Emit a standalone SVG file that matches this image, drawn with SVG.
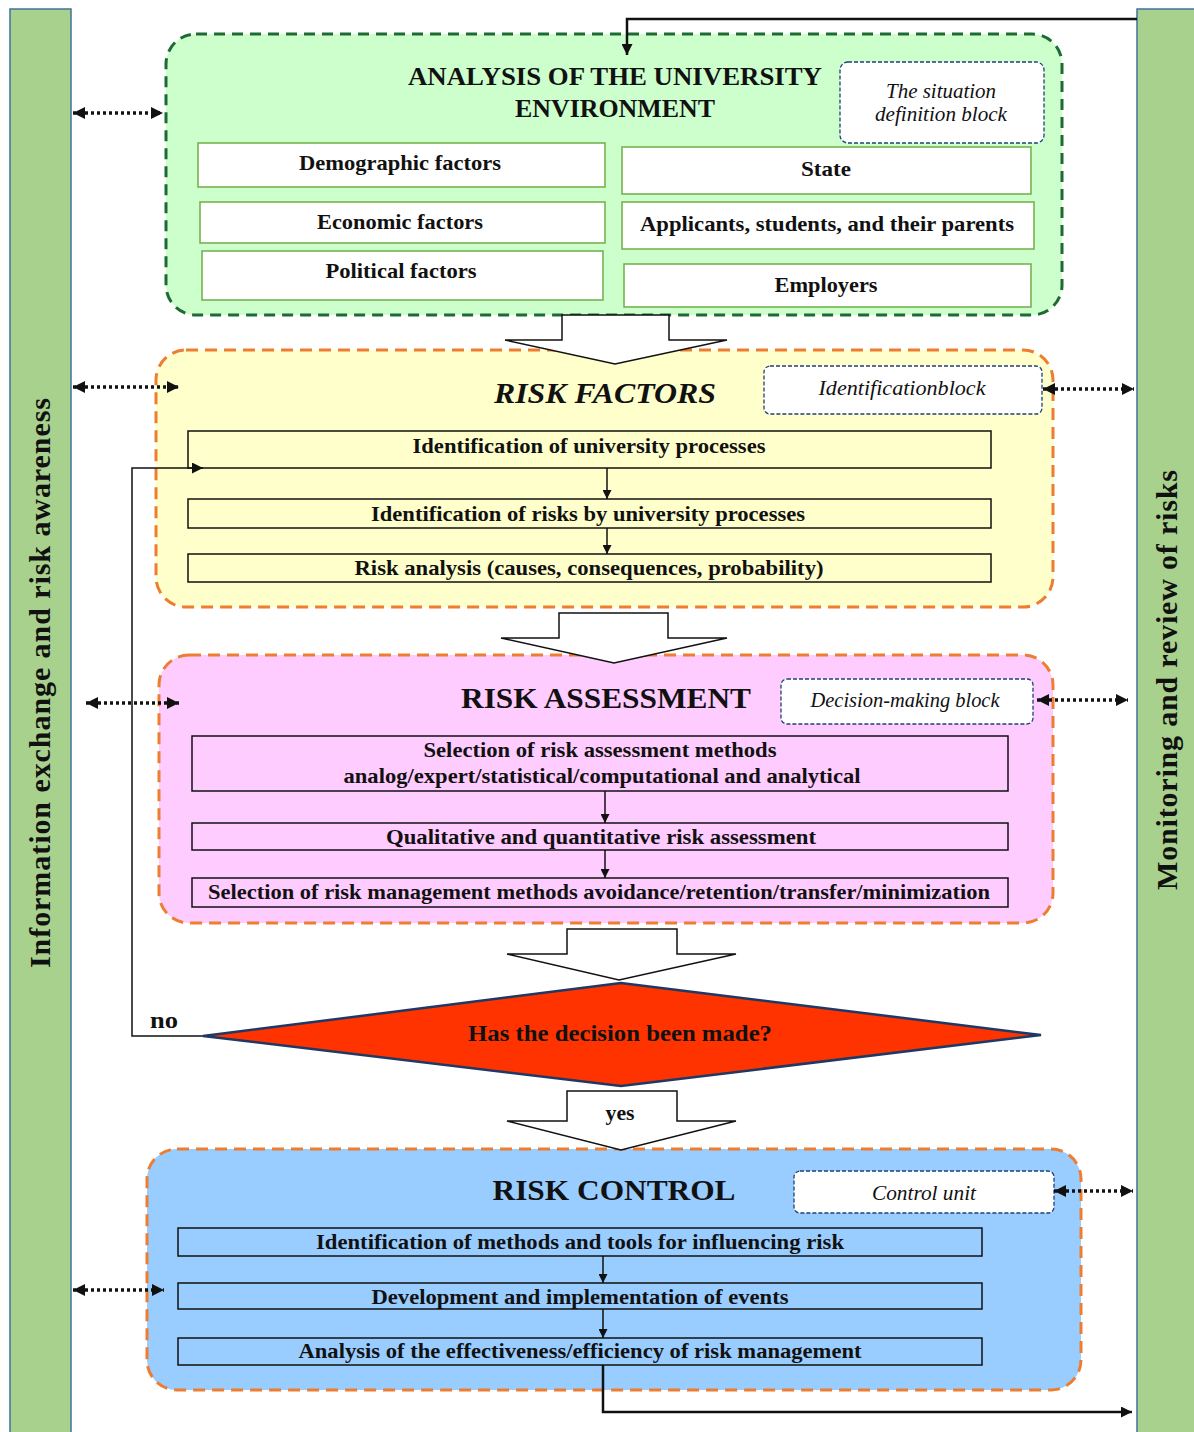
<svg xmlns="http://www.w3.org/2000/svg" width="1194" height="1432" viewBox="0 0 1194 1432">
<style>
  text { font-family: "Liberation Serif", "Times New Roman", serif; fill: #111; }
  .b { font-weight: bold; }
  .bt { font-weight: bold; font-size: 22px; }
  .it { font-style: italic; font-size: 20px; }
  .title { font-weight: bold; font-size: 30px; }
  .bar { fill: #A9D18E; stroke: #41719C; stroke-width: 1.5; }
  .envbox { fill: #CCFFCC; stroke: #1D6B33; stroke-width: 3; stroke-dasharray: 11 7; }
  .obox { stroke: #ED7D31; stroke-width: 3; stroke-dasharray: 12 7; }
  .gbox { fill: #FFFFFF; stroke: #70AD47; stroke-width: 1.5; }
  .blk { fill: #FFFFFF; stroke: #203F7A; stroke-width: 1.3; stroke-dasharray: 4 2; }
  .ibox { stroke: #111; stroke-width: 1.5; }
  .barrow { fill: #FFFFFF; stroke: #111; stroke-width: 1.5; }
  .ln { fill: none; stroke: #111; stroke-width: 1.5; }
  .thick { fill: none; stroke: #111; stroke-width: 2.5; }
  .dot { fill: none; stroke: #111; stroke-width: 3.5; stroke-dasharray: 3 3; }
</style>
<defs>
  <marker id="ah" viewBox="0 0 10 10" refX="10" refY="5" markerWidth="11" markerHeight="11" markerUnits="userSpaceOnUse" orient="auto">
    <path d="M0,0 L10,5 L0,10 z" fill="#111"/>
  </marker>
  <marker id="ahs" viewBox="0 0 10 10" refX="10" refY="5" markerWidth="10" markerHeight="9" markerUnits="userSpaceOnUse" orient="auto">
    <path d="M0,0 L10,5 L0,10 z" fill="#111"/>
  </marker>
  <marker id="ahd" viewBox="0 0 10 10" refX="10" refY="5" markerWidth="12" markerHeight="12" markerUnits="userSpaceOnUse" orient="auto-start-reverse">
    <path d="M0,0 L10,5 L0,10 z" fill="#111"/>
  </marker>
</defs>

<!-- side bars -->
<g id="bar-left">
  <rect class="bar" x="10" y="9" width="61" height="1430"/>
  <text class="b" font-size="30" transform="translate(50,683) rotate(-90)" text-anchor="middle" textLength="570" lengthAdjust="spacing">Information exchange and risk awareness</text>
</g>
<g id="bar-right">
  <rect class="bar" x="1137" y="9" width="62" height="1430"/>
  <text class="b" font-size="30" transform="translate(1177,680) rotate(-90)" text-anchor="middle" textLength="420" lengthAdjust="spacing">Monitoring and review of risks</text>
</g>

<!-- analysis of environment -->
<g id="env">
  <rect class="envbox" x="166" y="34" width="896" height="281" rx="30"/>
  <text class="b" font-size="26" x="615" y="85" text-anchor="middle" textLength="414" lengthAdjust="spacingAndGlyphs">ANALYSIS  OF  THE  UNIVERSITY</text>
  <text class="b" font-size="26" x="615" y="117" text-anchor="middle" textLength="200" lengthAdjust="spacingAndGlyphs">ENVIRONMENT</text>
</g>
<g id="situation-block">
  <rect class="blk" x="840" y="62" width="204" height="81" rx="8"/>
  <text class="it" x="941" y="98" text-anchor="middle" textLength="110" lengthAdjust="spacingAndGlyphs">The situation</text>
  <text class="it" x="941" y="121" text-anchor="middle" textLength="132" lengthAdjust="spacingAndGlyphs">definition block</text>
</g>
<g id="demographic">
  <rect class="gbox" x="198" y="143" width="407" height="44"/>
  <text class="bt" x="400" y="170" text-anchor="middle" textLength="202" lengthAdjust="spacingAndGlyphs">Demographic factors</text>
</g>
<g id="economic">
  <rect class="gbox" x="200" y="202" width="405" height="41"/>
  <text class="bt" x="400" y="229" text-anchor="middle" textLength="166" lengthAdjust="spacingAndGlyphs">Economic factors</text>
</g>
<g id="political">
  <rect class="gbox" x="202" y="251" width="401" height="49"/>
  <text class="bt" x="401" y="278" text-anchor="middle" textLength="151" lengthAdjust="spacingAndGlyphs">Political  factors</text>
</g>
<g id="state">
  <rect class="gbox" x="622" y="147" width="409" height="47"/>
  <text class="bt" x="826" y="176" text-anchor="middle" textLength="50" lengthAdjust="spacingAndGlyphs">State</text>
</g>
<g id="applicants">
  <rect class="gbox" x="622" y="202" width="412" height="47"/>
  <text class="bt" x="827" y="231" text-anchor="middle" textLength="374" lengthAdjust="spacingAndGlyphs">Applicants, students, and their parents</text>
</g>
<g id="employers">
  <rect class="gbox" x="624" y="264" width="407" height="43"/>
  <text class="bt" x="826" y="292" text-anchor="middle" textLength="103" lengthAdjust="spacingAndGlyphs">Employers</text>
</g>

<!-- risk factors -->
<g id="risk-factors">
  <rect class="obox" fill="#FFFFCC" x="156" y="350" width="897" height="257" rx="30"/>
  <text class="b" font-size="29" font-style="italic" x="605" y="403" text-anchor="middle" textLength="222" lengthAdjust="spacingAndGlyphs">RISK FACTORS</text>
</g>
<g id="identification-block">
  <rect class="blk" x="764" y="366" width="278" height="48" rx="6"/>
  <text class="it" x="902" y="395" text-anchor="middle" textLength="167" lengthAdjust="spacingAndGlyphs">Identificationblock</text>
</g>
<g id="rf1">
  <rect class="ibox" fill="#FFFFCC" x="188" y="431" width="803" height="37"/>
  <text class="bt" x="589" y="453" text-anchor="middle" textLength="353" lengthAdjust="spacingAndGlyphs">Identification of university processes</text>
</g>
<g id="rf2">
  <rect class="ibox" fill="#FFFFCC" x="188" y="499" width="803" height="29"/>
  <text class="bt" x="588" y="521" text-anchor="middle" textLength="434" lengthAdjust="spacingAndGlyphs">Identification of risks by university processes</text>
</g>
<g id="rf3">
  <rect class="ibox" fill="#FFFFCC" x="188" y="554" width="803" height="28"/>
  <text class="bt" x="589" y="575" text-anchor="middle" textLength="469" lengthAdjust="spacingAndGlyphs">Risk analysis (causes, consequences, probability)</text>
</g>

<!-- risk assessment -->
<g id="risk-assessment">
  <rect class="obox" fill="#FFCCFF" x="159" y="655" width="894" height="268" rx="30"/>
  <text class="title" x="606" y="708" text-anchor="middle" textLength="290" lengthAdjust="spacingAndGlyphs">RISK ASSESSMENT</text>
</g>
<g id="decision-block">
  <rect class="blk" x="781" y="679" width="252" height="45" rx="6"/>
  <text class="it" x="905" y="707" text-anchor="middle" textLength="189" lengthAdjust="spacingAndGlyphs">Decision-making block</text>
</g>
<g id="ra1">
  <rect class="ibox" fill="#FFCCFF" x="192" y="736" width="816" height="55"/>
  <text class="bt" x="600" y="757" text-anchor="middle" textLength="353" lengthAdjust="spacingAndGlyphs">Selection  of risk assessment methods</text>
  <text class="bt" x="602" y="783" text-anchor="middle" textLength="517" lengthAdjust="spacingAndGlyphs">analog/expert/statistical/computational  and analytical</text>
</g>
<g id="ra2">
  <rect class="ibox" fill="#FFCCFF" x="192" y="823" width="816" height="27"/>
  <text class="bt" x="601" y="844" text-anchor="middle" textLength="430" lengthAdjust="spacingAndGlyphs">Qualitative and quantitative risk assessment</text>
</g>
<g id="ra3">
  <rect class="ibox" fill="#FFCCFF" x="192" y="878" width="816" height="29"/>
  <text class="bt" x="599" y="899" text-anchor="middle" textLength="782" lengthAdjust="spacingAndGlyphs">Selection  of risk management methods avoidance/retention/transfer/minimization</text>
</g>

<!-- decision -->
<g id="decision">
  <polygon points="203,1036 621,983 1041,1035 621,1086" fill="#FF3300" stroke="#1F3864" stroke-width="2.5"/>
  <text class="b" font-size="23" x="620" y="1041" text-anchor="middle" textLength="304" lengthAdjust="spacingAndGlyphs">Has the decision been made?</text>
</g>

<!-- risk control -->
<g id="risk-control">
  <rect class="obox" fill="#99CCFF" x="147" y="1149" width="934" height="241" rx="30"/>
  <text class="title" x="614" y="1200" text-anchor="middle" textLength="243" lengthAdjust="spacingAndGlyphs">RISK CONTROL</text>
</g>
<g id="control-unit">
  <rect class="blk" x="794" y="1171" width="260" height="42" rx="6"/>
  <text class="it" x="924" y="1200" text-anchor="middle" textLength="104" lengthAdjust="spacingAndGlyphs">Control unit</text>
</g>
<g id="rc1">
  <rect class="ibox" fill="#99CCFF" x="178" y="1228" width="804" height="28"/>
  <text class="bt" x="580" y="1249" text-anchor="middle" textLength="528" lengthAdjust="spacingAndGlyphs">Identification of methods and tools for influencing risk</text>
</g>
<g id="rc2">
  <rect class="ibox" fill="#99CCFF" x="178" y="1283" width="804" height="26"/>
  <text class="bt" x="580" y="1304" text-anchor="middle" textLength="417" lengthAdjust="spacingAndGlyphs">Development and implementation  of events</text>
</g>
<g id="rc3">
  <rect class="ibox" fill="#99CCFF" x="178" y="1338" width="804" height="27"/>
  <text class="bt" x="580" y="1358" text-anchor="middle" textLength="563" lengthAdjust="spacingAndGlyphs">Analysis of the effectiveness/efficiency  of risk management</text>
</g>

<!-- connectors -->
<g id="connectors">
  <polygon class="barrow" points="562,315 669,315 669,340 727,340 615,364 505,340 562,340"/>
  <polygon class="barrow" points="559,613 668,613 668,638 727,638 614,663 501,638 559,638"/>
  <polygon class="barrow" points="567,929 677,929 677,954 736,954 619,980 507,954 567,954"/>
  <polygon class="barrow" points="567,1091 677,1091 677,1121 736,1121 621,1150 507,1121 567,1121"/>
  <text class="b" font-size="21" x="620" y="1120" text-anchor="middle" textLength="29" lengthAdjust="spacingAndGlyphs">yes</text>

  <path class="thick" d="M1137,19 H627 V55" marker-end="url(#ah)"/>
  <path class="thick" d="M603,1365 V1412 H1132" marker-end="url(#ah)"/>
  <path class="ln" d="M203,1036 H132 V468 H203" marker-end="url(#ah)"/>
  <text class="b" font-size="24" x="164" y="1028" text-anchor="middle" textLength="28" lengthAdjust="spacingAndGlyphs">no</text>

  <path class="ln" d="M607,468 V499" marker-end="url(#ahs)"/>
  <path class="ln" d="M607,528 V554" marker-end="url(#ahs)"/>
  <path class="ln" d="M605,791 V823" marker-end="url(#ahs)"/>
  <path class="ln" d="M605,850 V878" marker-end="url(#ahs)"/>
  <path class="ln" d="M603,1256 V1283" marker-end="url(#ahs)"/>
  <path class="ln" d="M603,1309 V1338" marker-end="url(#ahs)"/>

  <path class="dot" d="M73,113 H163" marker-start="url(#ahd)" marker-end="url(#ahd)"/>
  <path class="dot" d="M73,387 H179" marker-start="url(#ahd)" marker-end="url(#ahd)"/>
  <path class="dot" d="M1043,389 H1134" marker-start="url(#ahd)" marker-end="url(#ahd)"/>
  <path class="dot" d="M86,703 H179" marker-start="url(#ahd)" marker-end="url(#ahd)"/>
  <path class="dot" d="M1037,700 H1128" marker-start="url(#ahd)" marker-end="url(#ahd)"/>
  <path class="dot" d="M1054,1191 H1133" marker-start="url(#ahd)" marker-end="url(#ahd)"/>
  <path class="dot" d="M73,1290 H164" marker-start="url(#ahd)" marker-end="url(#ahd)"/>
</g>
</svg>
